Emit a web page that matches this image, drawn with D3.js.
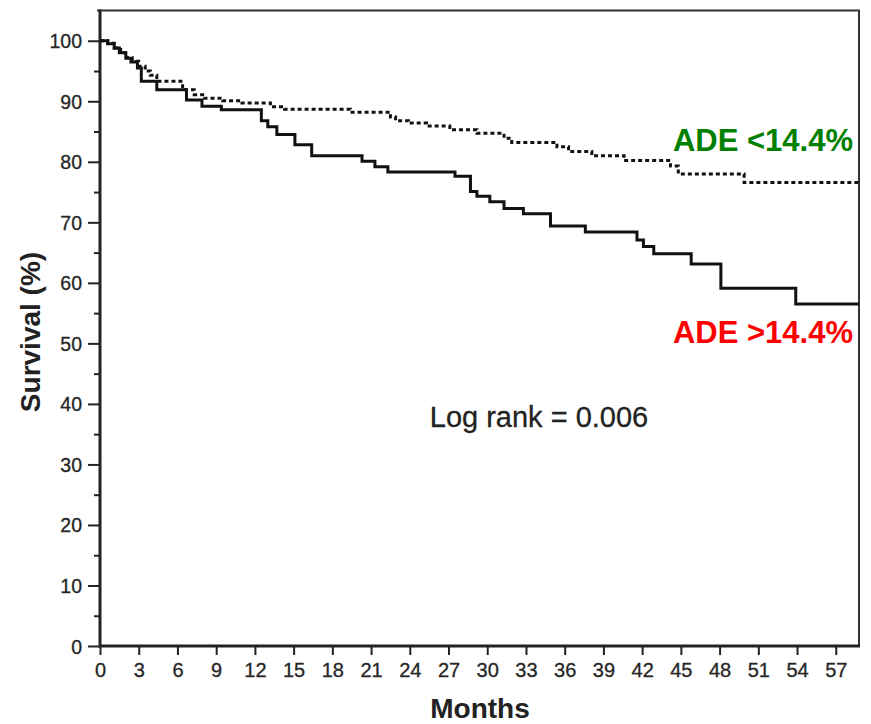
<!DOCTYPE html>
<html>
<head>
<meta charset="utf-8">
<script src="https://cdn.jsdelivr.net/npm/d3@7"></script>
<style>
  html, body { margin: 0; padding: 0; background: #fff; }
  svg { display: block; font-family: "Liberation Sans", Arial, sans-serif; }
</style>
</head>
<body>
<svg id="chart" width="871" height="724"></svg>
<script>
// ---- Data ----
const xTicks = [0, 3, 6, 9, 12, 15, 18, 21, 24, 27, 30, 33, 36, 39, 42, 45, 48, 51, 54, 57];
const yTicks = [0, 10, 20, 30, 40, 50, 60, 70, 80, 90, 100];
const yMinorTicks = [5, 15, 25, 35, 45, 55, 65, 75, 85, 95];

// ADE >14.4% (solid)
const highMonths = [0, 0.6, 1.1, 1.5, 2.0, 2.4, 2.9, 3.2, 4.4, 6.7, 7.9, 9.4, 12.5, 13.0, 13.7, 15.1, 16.4, 20.3, 21.3, 22.3, 27.5, 28.7, 29.2, 30.2, 31.3, 32.8, 34.9, 37.6, 41.6, 42.1, 42.9, 45.8, 48.1, 53.9];
const highSurv   = [100, 99.5, 98.8, 98.0, 97.1, 96.5, 95.5, 93.3, 91.9, 90.2, 89.2, 88.6, 86.8, 85.8, 84.5, 82.8, 81.0, 80.1, 79.2, 78.3, 77.6, 75.1, 74.3, 73.4, 72.3, 71.4, 69.4, 68.4, 67.1, 66.0, 64.8, 63.1, 59.1, 56.5];

// ADE <14.4% (dotted)
const lowMonths = [0, 0.6, 1.1, 1.6, 2.1, 2.5, 3.0, 3.5, 3.9, 4.4, 6.4, 7.3, 8.1, 9.5, 11.0, 13.2, 14.3, 19.4, 22.5, 22.9, 23.9, 25.3, 27.1, 29.2, 31.3, 31.9, 35.4, 36.3, 38.1, 40.6, 44.2, 44.8, 49.9];
const lowSurv   = [100, 99.6, 98.8, 98.0, 97.2, 96.6, 95.8, 95.0, 94.3, 93.3, 91.9, 91.1, 90.5, 90.1, 89.7, 89.1, 88.7, 88.2, 87.4, 86.8, 86.4, 85.9, 85.3, 84.7, 83.9, 83.2, 82.5, 81.7, 81.0, 80.2, 79.3, 78.0, 76.6];

const xMax = 58.8;
const yMax = 105;

// ---- Layout ----
const svg = d3.select("#chart");
const mLeft = 100, mRight = 859, mTop = 10.5, mBottom = 646;

const x = d3.scaleLinear().domain([0, xMax]).range([mLeft, mRight]);
const y = d3.scaleLinear().domain([0, yMax]).range([mBottom, mTop]);

svg.append("rect").attr("width", 871).attr("height", 724).attr("fill", "#fff");

// frame (top/right)
svg.append("path")
  .attr("d", `M${mLeft - 3},${mTop} H${mRight} V${mBottom}`)
  .attr("fill", "none").attr("stroke", "#333").attr("stroke-width", 2);

// Y axis
const yAxis = d3.axisLeft(y).tickValues(yTicks).tickSize(12).tickPadding(6).tickFormat(d3.format("d"));
const gy = svg.append("g").attr("transform", `translate(${mLeft},0)`).call(yAxis);
gy.select(".domain").remove();
gy.selectAll(".tick line").attr("stroke", "#222").attr("stroke-width", 2);
gy.selectAll(".tick text").attr("font-size", 19.5).attr("fill", "#262626")
  .attr("stroke", "#262626").attr("stroke-width", 0.3)
  .attr("font-family", "'Liberation Sans', Arial, sans-serif").attr("dy", "0.36em");

const gyMinor = svg.append("g").attr("transform", `translate(${mLeft},0)`)
  .call(d3.axisLeft(y).tickValues(yMinorTicks).tickSize(6).tickFormat(""));
gyMinor.select(".domain").remove();
gyMinor.selectAll(".tick line").attr("stroke", "#222").attr("stroke-width", 2);

// X axis
const xAxis = d3.axisBottom(x).tickValues(xTicks).tickSize(9).tickPadding(8).tickFormat(d3.format("d"));
const gx = svg.append("g").attr("transform", `translate(0,${mBottom})`).call(xAxis);
gx.select(".domain").remove();
gx.selectAll(".tick line").attr("stroke", "#222").attr("stroke-width", 2);
gx.selectAll(".tick text").attr("font-size", 20).attr("fill", "#262626")
  .attr("stroke", "#262626").attr("stroke-width", 0.3)
  .attr("font-family", "'Liberation Sans', Arial, sans-serif");

// axis lines (thicker)
svg.append("path")
  .attr("d", `M${mLeft},${mTop - 1} V${mBottom} H${mRight + 1}`)
  .attr("fill", "none").attr("stroke", "#222").attr("stroke-width", 3);

// ---- Curves ----
const stepLine = d3.line().x(d => x(d[0])).y(d => y(d[1])).curve(d3.curveStepAfter);
const highPts = highMonths.map((m, i) => [m, highSurv[i]]);
highPts.push([xMax, highSurv[highSurv.length - 1]]);
const lowPts = lowMonths.map((m, i) => [m, lowSurv[i]]);
lowPts.push([xMax, lowSurv[lowSurv.length - 1]]);

svg.append("path").datum(lowPts).attr("d", stepLine)
  .attr("fill", "none").attr("stroke", "#111").attr("stroke-width", 3)
  .attr("stroke-dasharray", "4,3");

svg.append("path").datum(highPts).attr("d", stepLine)
  .attr("fill", "none").attr("stroke", "#111").attr("stroke-width", 3);

// ---- Labels ----
svg.append("text").attr("x", 480).attr("y", 718).attr("text-anchor", "middle")
  .attr("font-size", 28).attr("font-weight", "bold").attr("fill", "#222").text("Months");

svg.append("text").attr("transform", "translate(40,332) rotate(-90)").attr("text-anchor", "middle")
  .attr("font-size", 28).attr("font-weight", "bold").attr("fill", "#222").text("Survival (%)");

svg.append("text").attr("x", 539).attr("y", 427).attr("text-anchor", "middle")
  .attr("font-size", 29).attr("fill", "#222").attr("stroke", "#222").attr("stroke-width", 0.3)
  .text("Log rank = 0.006");

svg.append("text").attr("x", 853).attr("y", 151).attr("text-anchor", "end")
  .attr("font-size", 31).attr("font-weight", "bold").attr("fill", "#008000").text("ADE <14.4%");

svg.append("text").attr("x", 853).attr("y", 343).attr("text-anchor", "end")
  .attr("font-size", 31).attr("font-weight", "bold").attr("fill", "#ff0000").text("ADE >14.4%");
</script>
</body>
</html>
